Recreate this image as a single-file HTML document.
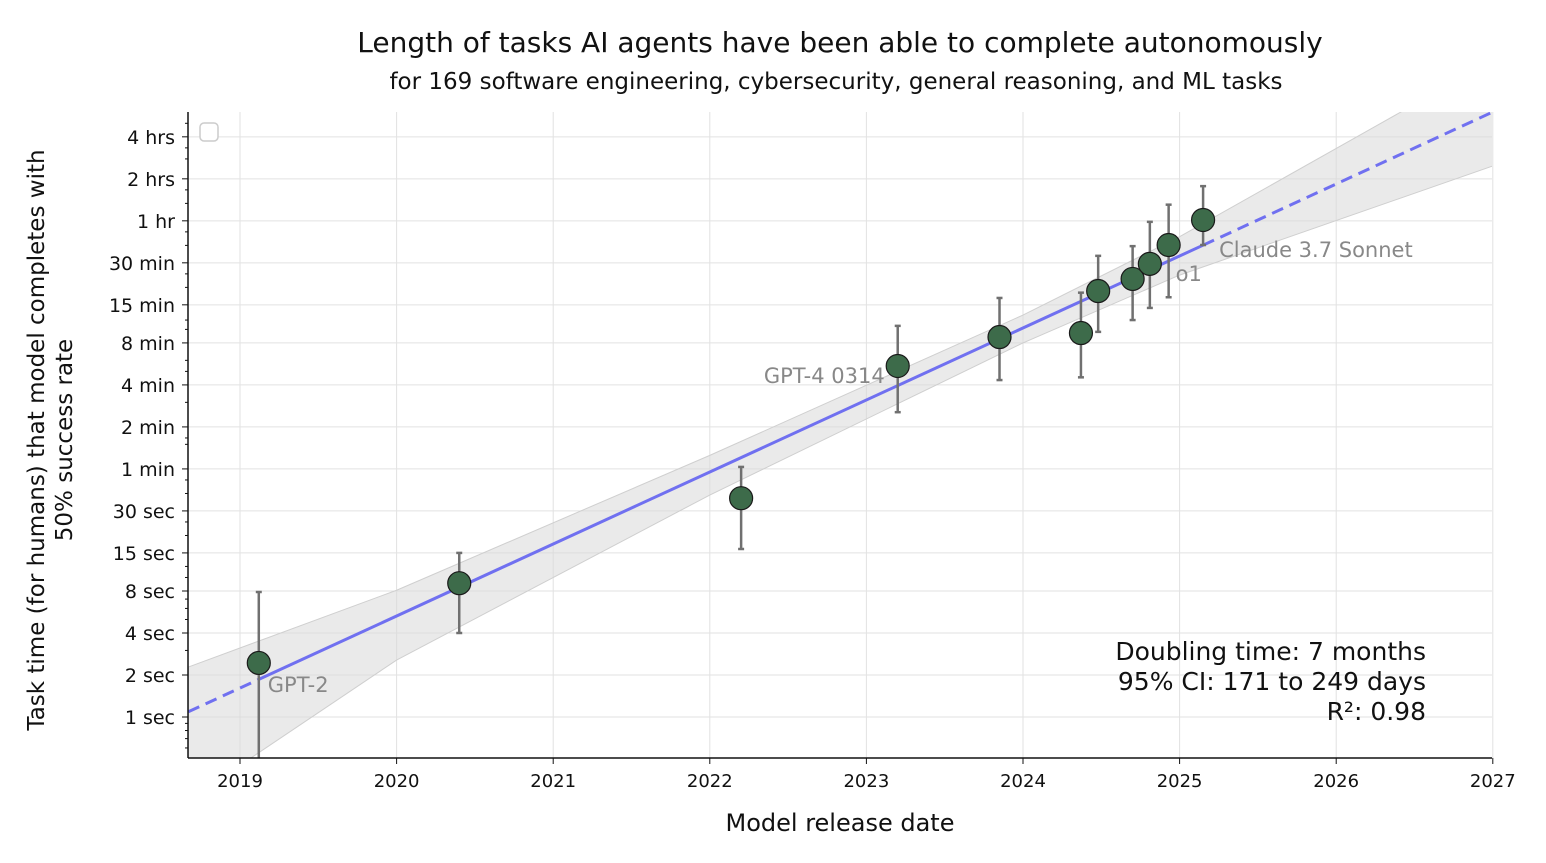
<!DOCTYPE html>
<html><head><meta charset="utf-8"><style>
body{margin:0;background:#fff}
svg text{font-family:"DejaVu Sans","Liberation Sans",sans-serif}
</style></head><body>
<svg id="chart" width="1546" height="858" xmlns="http://www.w3.org/2000/svg">
<text x="840" y="52" text-anchor="middle" font-size="28" fill="#111">Length of tasks AI agents have been able to complete autonomously</text>
<text x="836" y="89" text-anchor="middle" font-size="23" fill="#111">for 169 software engineering, cybersecurity, general reasoning, and ML tasks</text>
<text x="840" y="831" text-anchor="middle" font-size="24" fill="#111">Model release date</text>
<text transform="translate(44,440) rotate(-90)" text-anchor="middle" font-size="23" fill="#111"><tspan x="0" dy="0">Task time (for humans) that model completes with</tspan><tspan x="0" dy="28">50% success rate</tspan></text>
<g id="plot"></g>
</svg>
<script>
const yearTicks=[2019,2020,2021,2022,2023,2024,2025,2026,2027];
const yTickLabels=["1 sec","2 sec","4 sec","8 sec","15 sec","30 sec","1 min","2 min","4 min","8 min","15 min","30 min","1 hr","2 hrs","4 hrs"];
const yTickValues=[1,2,4,8,15,30,60,120,240,480,900,1800,3600,7200,14400];
const modelDates=[2019.12,2020.40,2022.20,2023.20,2023.85,2024.37,2024.48,2024.70,2024.81,2024.93,2025.15];
const modelSeconds=[2.44,9.1,37,328,529,565,1130,1380,1770,2415,3650];
const errLow=[0.3,4,16,153,260,272,576,700,855,1020,2415];
const errHigh=[7.87,15,62,636,1008,1100,2020,2370,3540,4700,6380];
const modelLabels=["GPT-2","","","GPT-4 0314","","","","","","o1","Claude 3.7 Sonnet"];
const trendDates=[2018.67,2027];
const trendSeconds=[1.09,21700];
const bandDates=[2018.67,2020,2022,2024,2025,2027];
const bandUpper=[2.28,8.1,75,760,2770,51000];
const bandLower=[0.254,2.56,39,480,1470,8900];

const L=188,R=1492,T=112,B=758;
const xs=d=>240+(d-2019)*156.6;
const ys=s=>717-42*Math.log2(s);
const NS="http://www.w3.org/2000/svg";
const g=document.getElementById('plot');
function mk(tag,attrs,parent){const e=document.createElementNS(NS,tag);for(const k in attrs)e.setAttribute(k,attrs[k]);(parent||g).appendChild(e);return e;}
const defs=mk('defs',{});const cp=mk('clipPath',{id:'clip'},defs);mk('rect',{x:L,y:T,width:R-L,height:B-T},cp);
const grid=mk('g',{});


yearTicks.forEach(y=>{const l=mk('line',{x1:xs(y),x2:xs(y),y1:T,y2:B,stroke:'#e2e2e2','stroke-width':1},grid);});
yTickValues.forEach(v=>{mk('line',{x1:L,x2:R,y1:ys(v),y2:ys(v),stroke:'#e2e2e2','stroke-width':1},grid);});
const clipG=mk('g',{'clip-path':'url(#clip)'});
let pts=bandDates.map((d,i)=>xs(d)+','+ys(bandUpper[i]));
pts=pts.concat(bandDates.map((d,i)=>xs(d)+','+ys(bandLower[i])).reverse());
const band=mk('polygon',{points:pts.join(' '),fill:'#d9d9d9','fill-opacity':0.55,stroke:'#cfcfcf','stroke-width':1},clipG);


const tX=d=>xs(d),tY=d=>{const f=(d-trendDates[0])/(trendDates[1]-trendDates[0]);return ys(Math.pow(2,Math.log2(trendSeconds[0])+f*(Math.log2(trendSeconds[1])-Math.log2(trendSeconds[0]))));};
const s0=modelDates[0],s1=modelDates[modelDates.length-1];
const segs=[[trendDates[0],s0,true],[s0,s1,false],[s1,trendDates[1],true]];
segs.forEach(([a,b,dash])=>{const l=mk('line',{x1:tX(a),y1:tY(a),x2:tX(b),y2:tY(b),stroke:'#7070f0','stroke-width':3},clipG);if(dash)l.setAttribute('stroke-dasharray','12,7');

});
modelDates.forEach((d,i)=>{
 const e=mk('g',{},clipG);
 
 
 const x=xs(d);
 mk('line',{x1:x,x2:x,y1:ys(errHigh[i]),y2:ys(errLow[i]),stroke:'#707070','stroke-width':2.5},e);
 mk('line',{x1:x-3,x2:x+3,y1:ys(errHigh[i]),y2:ys(errHigh[i]),stroke:'#707070','stroke-width':2.5},e);
 mk('line',{x1:x-3,x2:x+3,y1:ys(errLow[i]),y2:ys(errLow[i]),stroke:'#707070','stroke-width':2.5},e);
 mk('circle',{cx:x,cy:ys(modelSeconds[i]),r:11.5,fill:'#3d6b4a',stroke:'#1a1a1a','stroke-width':1.2},e);
});
modelDates.forEach((d,i)=>{if(!modelLabels[i])return;
 const x=xs(d),y=ys(modelSeconds[i]);let a={};
 if(i===0)a={x:x+9,y:y+29,'text-anchor':'start'};
 else if(i===3)a={x:x-13,y:y+17,'text-anchor':'end'};
 else if(modelLabels[i]==='o1')a={x:x+7,y:y+36,'text-anchor':'start'};
 else a={x:x+16,y:y+37,'text-anchor':'start'};
 const t=mk('text',Object.assign(a,{'font-size':21,fill:'#888'}));t.textContent=modelLabels[i];
 
 
});
// axes
mk('line',{x1:L,x2:L,y1:T,y2:B,stroke:'#111','stroke-width':1.5});
mk('line',{x1:L,x2:R,y1:B,y2:B,stroke:'#111','stroke-width':1.5});
yearTicks.forEach(y=>{mk('line',{x1:xs(y),x2:xs(y),y1:B,y2:B+6,stroke:'#111'});const t=mk('text',{x:xs(y),y:B+29,'text-anchor':'middle','font-size':18,fill:'#111'});t.textContent=y;
 
 });
yTickValues.forEach((v,i)=>{mk('line',{x1:L-6,x2:L,y1:ys(v),y2:ys(v),stroke:'#111'});const t=mk('text',{x:L-13,y:ys(v)+7,'text-anchor':'end','font-size':19,fill:'#111'});t.textContent=yTickLabels[i];
 
 });
for(let k=-1;k<15;k++){for(let m=2;m<10;m++){const v=Math.pow(2,k)*m/1;const y=ys(v);}}
[0.6,0.7,0.8,0.9,3,5,6,7,10,12,20,25,40,50,90,100,180,300,360,600,700,1200,1500,2400,3000,4800,6000,10000,12000,18000].forEach(v=>{const y=ys(v);if(y>T&&y<B)mk('line',{x1:L-3,x2:L,y1:y,y2:y,stroke:'#111'});});
const lg=mk('rect',{x:200,y:123,width:18,height:18,rx:4,fill:'#fff',stroke:'#ccc','stroke-width':1.5});


const ann=["Doubling time: 7 months","95% CI: 171 to 249 days","R²: 0.98"];
ann.forEach((s,i)=>{const t=mk('text',{x:1426,y:660+i*30,'text-anchor':'end','font-size':25,fill:'#111'});t.textContent=s;
 
 });
</script>
</body></html>
